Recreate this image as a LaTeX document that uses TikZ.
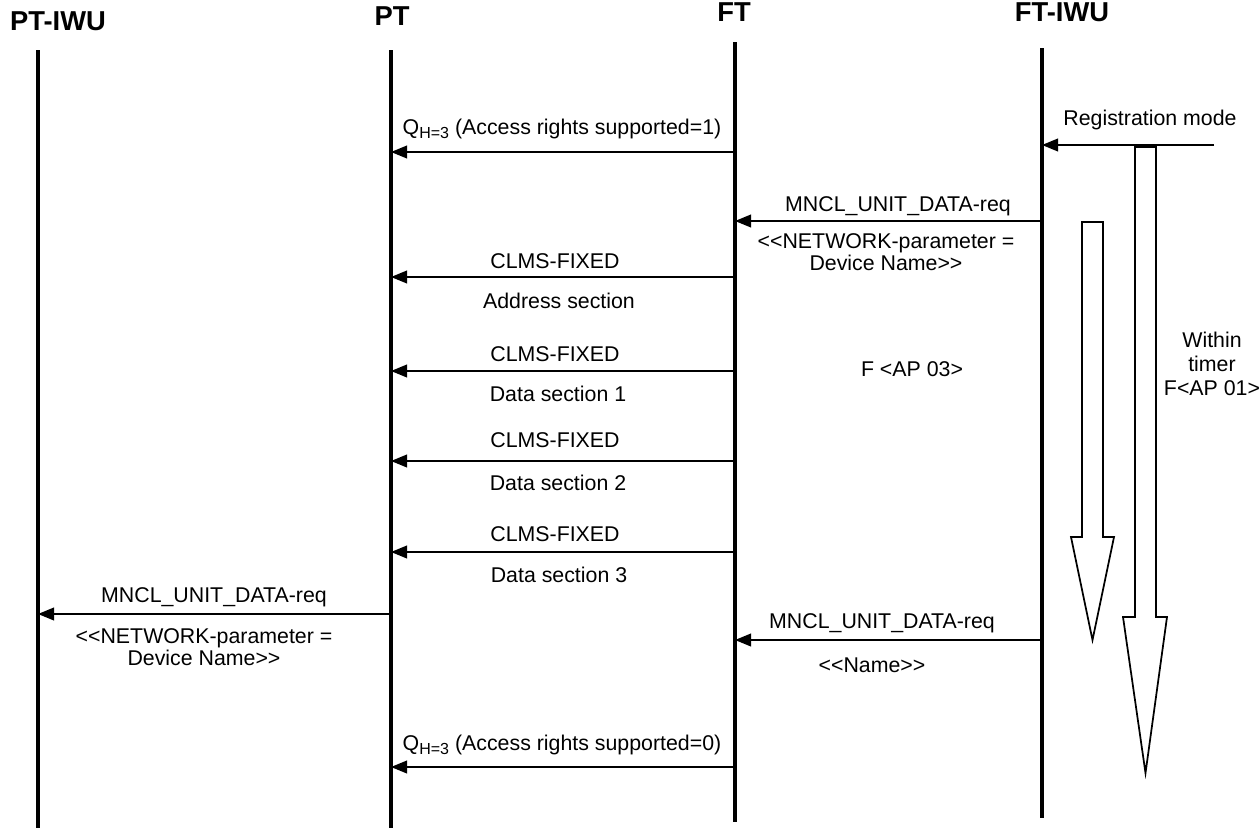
\documentclass[tikz,border=0pt]{standalone}
\usepackage{fontspec}
\setmainfont{Liberation Sans}
\usetikzlibrary{arrows.meta}
\newcommand{\Qsub}{Q\raisebox{-0.35ex}{\fontsize{12}{12}\selectfont H=3}}
\newcommand{\LLt}{<\kern0pt<}
\newcommand{\GGt}{>\kern0pt>}
\begin{document}
\begin{tikzpicture}[x=0.75pt,y=-0.75pt,
  lifeline/.style={line width=2.3pt},
  msg/.style={line width=1.3pt,-{Triangle[length=12pt,width=9.5pt]}},
  lbl/.style={inner sep=0pt,font=\fontsize{16}{16}\selectfont,align=center},
  hdr/.style={inner sep=0pt,font=\fontsize{20.5}{23}\selectfont\bfseries},
  blockarrow/.style={line width=1.3pt,fill=white,line join=miter}]
\useasboundingbox (0,0) rectangle (1260,828);

% headers
\node[hdr] (hA) at (58,21) {PT-IWU};
\node[hdr] (hB) at (392,16) {PT};
\node[hdr] (hC) at (734,12) {FT};
\node[hdr] (hD) at (1062,12) {FT-IWU};

% lifelines
\coordinate (aT) at (38,50);  \coordinate (aB) at (38,828);
\coordinate (bT) at (391,50); \coordinate (bB) at (391,828);
\coordinate (cT) at (735,42); \coordinate (cB) at (735,822);
\coordinate (dT) at (1042,48); \coordinate (dB) at (1042,818);
\draw[lifeline] (aT) -- (aB);
\draw[lifeline] (bT) -- (bB);
\draw[lifeline] (cT) -- (cB);
\draw[lifeline] (dT) -- (dB);

% timer block arrows
\draw[blockarrow] (1135,147) -- (1156,147) -- (1156,617) -- (1167,617)
  -- (1145.5,773) -- (1123,617) -- (1135,617) -- cycle;
\draw[blockarrow] (1082,222) -- (1103,222) -- (1103,537) -- (1114,537)
  -- (1092.5,640) -- (1071,537) -- (1082,537) -- cycle;

% registration mode
\coordinate (regS) at (1214,145);
\coordinate (regD) at (1042,145);
\draw[msg] (regS) -- (regD);
\node[lbl] (regL) at (1150,120) {Registration mode};

% Q access rights = 1
\coordinate (q1c) at (735,152); \coordinate (q1b) at (391,152);
\draw[msg] (q1c) -- (q1b);
\node[lbl] (q1L) at (562,129) {\Qsub{} (Access rights supported=1)};

% MNCL FT-IWU -> FT
\coordinate (m1d) at (1042,221); \coordinate (m1c) at (735,221);
\draw[msg] (m1d) -- (m1c);
\node[lbl] (m1P) at (886,252) {\LLt NETWORK-parameter =\\Device Name\GGt};
\node[lbl] (m1L) at (898,206) {MNCL\_UNIT\_DATA-req};

% CLMS-FIXED messages
\coordinate (k1c) at (735,277); \coordinate (k1b) at (391,277);
\draw[msg] (k1c) -- (k1b);
\node[lbl] (k1L) at (555,261) {CLMS-FIXED};
\node[lbl] (k1P) at (559,301) {Address section};

\coordinate (k2c) at (735,371); \coordinate (k2b) at (391,371);
\draw[msg] (k2c) -- (k2b);
\node[lbl] (k2L) at (555,354) {CLMS-FIXED};
\node[lbl] (k2P) at (558,394) {Data section 1};

\coordinate (k3c) at (735,461); \coordinate (k3b) at (391,461);
\draw[msg] (k3c) -- (k3b);
\node[lbl] (k3L) at (555,440) {CLMS-FIXED};
\node[lbl] (k3P) at (558,483) {Data section 2};

\coordinate (k4c) at (735,552); \coordinate (k4b) at (391,552);
\draw[msg] (k4c) -- (k4b);
\node[lbl] (k4L) at (555,534) {CLMS-FIXED};
\node[lbl] (k4P) at (559,575) {Data section 3};

% timer labels
\node[lbl] (f3) at (912,369) {F <AP 03>};
\node[lbl,font=\fontsize{16}{18}\selectfont] (f1) at (1212,364) {Within\\timer\\F<AP 01>};

% MNCL PT -> PT-IWU
\coordinate (m2b) at (391,614); \coordinate (m2a) at (38,614);
\draw[msg] (m2b) -- (m2a);
\node[lbl] (m2L) at (214,597) {MNCL\_UNIT\_DATA-req};
\node[lbl] (m2P) at (204,647) {\LLt NETWORK-parameter =\\Device Name\GGt};

% MNCL FT-IWU -> FT (Name)
\coordinate (m3d) at (1042,640); \coordinate (m3c) at (735,640);
\draw[msg] (m3d) -- (m3c);
\node[lbl] (m3L) at (882,623) {MNCL\_UNIT\_DATA-req};
\node[lbl] (m3P) at (872,665) {\LLt Name\GGt};

% Q access rights = 0
\coordinate (q2c) at (735,767); \coordinate (q2b) at (391,767);
\draw[msg] (q2c) -- (q2b);
\node[lbl] (q2L) at (562,745) {\Qsub{} (Access rights supported=0)};
\end{tikzpicture}
\end{document}
